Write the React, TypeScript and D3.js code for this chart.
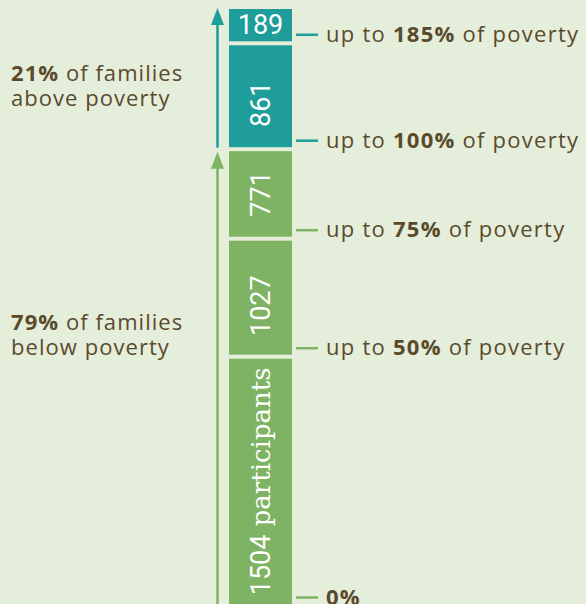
import React from "react";
import * as d3 from "d3";

// Data: participants per poverty band (bottom to top)
const bands = ["0–50%", "50–75%", "75–100%", "100–185%", "185%+"];
const counts = [1504, 1027, 771, 861, 189];
const groups = ["below", "below", "below", "above", "above"];
// tick labels at the lower boundary of each band
const tickBold = ["0%", "50%", "75%", "100%", "185%"];
const tickPrefix = ["", "up to ", "up to ", "up to ", "up to "];
const tickSuffix = ["", " of poverty", " of poverty", " of poverty", " of poverty"];
const groupShares = [79, 21];
const groupNames = ["below", "above"];

const W = 586;
const H = 604;
const BG = "#e5eedb";
const TEAL = "#1e9d9b";
const GREEN = "#7db363";
const TEXT = "#5a4a2c";
const FONT = "'Open Sans', 'Noto Sans', sans-serif";
const NUMFONT = "Roboto, 'Open Sans', sans-serif";

export default function App() {
  const cum = [0, ...d3.cumsum(counts)];
  const total = cum[cum.length - 1];
  // infographic is not drawn to scale: polylinear scale through the band boundaries
  const y = d3.scaleLinear().domain(cum).range([606, 356.7, 238.7, 149.2, 43.3, 7]);
  const color = d3.scaleOrdinal<string, string>().domain(["below", "above"]).range([GREEN, TEAL]);

  const barX0 = 229;
  const barX1 = 292;
  const barCx = (barX0 + barX1) / 2;
  const gap = 2;
  const arrowX = 217.5;
  const boundary = cum[3]; // 100% of poverty

  const tealTip = y(total) + 1;
  const tealEnd = y(boundary) - 1.5;
  const greenTip = y(boundary) + 2.5;
  const head = 17;
  const hw = 6.5;

  return (
    <svg
      width={W}
      height={H}
      style={{ position: "absolute", left: 0, top: 0, display: "block", background: BG }}
    >
      <rect x={0} y={0} width={W} height={H} fill={BG} />

      {/* bar segments */}
      {counts.map((c, i) => {
        const top = y(cum[i + 1]) + (i === counts.length - 1 ? 2 : gap);
        const bottom = y(cum[i]) - gap;
        return (
          <rect
            key={bands[i]}
            x={barX0}
            y={top}
            width={barX1 - barX0}
            height={bottom - top}
            fill={color(groups[i])}
          />
        );
      })}

      {/* segment labels */}
      {counts.map((c, i) => {
        const cy = (y(cum[i]) + y(cum[i + 1])) / 2;
        if (i === counts.length - 1) {
          return (
            <text
              key={"l" + i}
              x={barCx}
              y={cy + 9}
              textAnchor="middle"
              fill="#fff"
              fontFamily={NUMFONT}
              fontWeight={400}
              fontSize={27}
            >
              {c}
            </text>
          );
        }
        const shift = i === 1 || i === 3 ? 8 : 0;
        return (
          <text
            key={"l" + i}
            transform={`translate(${barCx + 9.5},${cy + shift}) rotate(-90)`}
            textAnchor="middle"
            fill="#fff"
            fontFamily={NUMFONT}
            fontWeight={400}
            fontSize={27}
          >
            {c}
            {i === 0 ? (
              <tspan fontFamily="'DejaVu Serif', serif" fontSize={26}>
                {" participants"}
              </tspan>
            ) : null}
          </text>
        );
      })}

      {/* arrows */}
      <line x1={arrowX} x2={arrowX} y1={tealTip + head - 1} y2={tealEnd} stroke={TEAL} strokeWidth={2.5} />
      <path
        d={`M${arrowX},${tealTip} L${arrowX + hw},${tealTip + head} L${arrowX - hw},${tealTip + head} Z`}
        fill={TEAL}
      />
      <line x1={arrowX} x2={arrowX} y1={greenTip + head - 1} y2={H + 2} stroke={GREEN} strokeWidth={2.5} />
      <path
        d={`M${arrowX},${greenTip} L${arrowX + hw},${greenTip + head} L${arrowX - hw},${greenTip + head} Z`}
        fill={GREEN}
      />

      {/* ticks and labels */}
      {tickBold.map((t, i) => {
        const ty = y(cum[i]) - 8.5;
        return (
          <g key={t}>
            <line x1={296} x2={318} y1={ty} y2={ty} stroke={color(groups[i])} strokeWidth={2.5} />
            <text x={326} y={ty + 7} fill={TEXT} fontFamily={FONT} fontSize={22} letterSpacing={1.25}>
              {tickPrefix[i]}
              <tspan fontWeight={700}>{t}</tspan>
              {tickSuffix[i]}
            </text>
          </g>
        );
      })}

      {/* group labels */}
      {groupNames.map((g, i) => {
        const by = g === "above" ? y(boundary) - 68 : y(cum[1]) - 27;
        return (
          <text key={g} x={11} y={by} fill={TEXT} fontFamily={FONT} fontSize={22} letterSpacing={1.05}>
            <tspan fontWeight={700}>{groupShares[i]}%</tspan>
            <tspan>{" of families"}</tspan>
            <tspan x={11} dy={25}>
              {g} poverty
            </tspan>
          </text>
        );
      })}
    </svg>
  );
}
